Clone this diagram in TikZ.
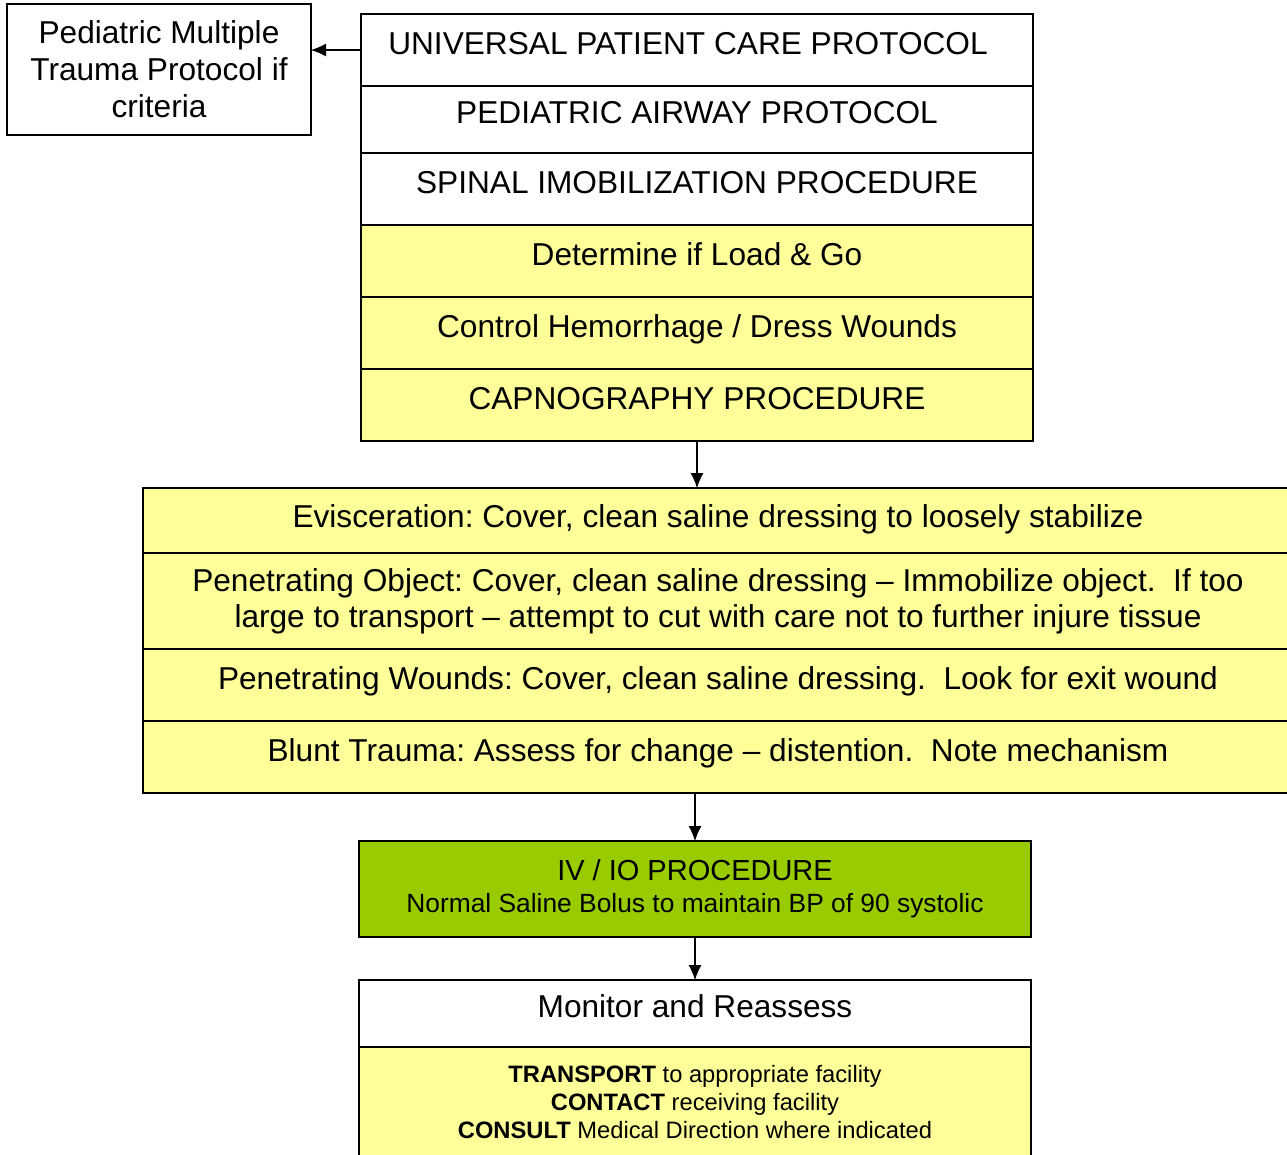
\documentclass[tikz,border=0pt]{standalone}
\usepackage{xcolor}
\usepackage{fontspec}
\setmainfont{Liberation Sans}
\frenchspacing
\usetikzlibrary{shapes,arrows.meta,positioning,calc}
\definecolor{stepyellow}{RGB}{255, 255, 153}
\definecolor{stepgreen}{RGB}{153, 204, 0}

\tikzset{
    rowbox/.style={draw, line width=1.1pt, outer sep=0pt, inner sep=2pt,
        minimum height=1.44cm, font=\fontsize{18}{20.5}\selectfont,
        text height=13pt, text depth=8pt},
    topbox/.style={rowbox, minimum width=13.44cm},
    midbox/.style={rowbox, minimum width=23cm},
    lowbox/.style={draw, line width=1.1pt, outer sep=0pt, inner sep=2pt,
        minimum width=13.44cm, align=center},
    flow/.style={line width=0.6pt, ->, >={Latex[length=3mm,width=2.6mm]}}
}

\begin{document}
\begin{tikzpicture}
    \useasboundingbox (0,0) rectangle (25.74,-23.08);
    \clip (0,0) rectangle (25.74,-23.08);
    % protocol stack
    \node[topbox, anchor=north west] (univ) at (7.22,-0.28) {UNIVERSAL PATIENT CARE PROTOCOL\hspace*{0.36cm}};
    \node[topbox, minimum height=1.34cm, below=0pt of univ] (airway) {PEDIATRIC AIRWAY PROTOCOL};
    \node[topbox, below=0pt of airway] (spinal) {SPINAL IMOBILIZATION PROCEDURE};
    \node[topbox, fill=stepyellow, below=0pt of spinal] (loadgo) {Determine if Load \& Go};
    \node[topbox, fill=stepyellow, below=0pt of loadgo] (hemo) {Control Hemorrhage / Dress Wounds};
    \node[topbox, fill=stepyellow, below=0pt of hemo] (capno) {CAPNOGRAPHY PROCEDURE};
    % side box
    \node[draw, line width=1.1pt, outer sep=0pt, anchor=north west, minimum width=6.08cm,
        minimum height=2.62cm, align=center, font=\fontsize{18}{21}\selectfont] (multi) at (0.14,-0.08)
        {Pediatric Multiple\\Trauma Protocol if\\criteria};
    % wounds
    \node[midbox, fill=stepyellow, minimum height=1.30cm, text depth=5pt, anchor=north west] (evisc) at (2.86,-9.76)
        {Evisceration: Cover, clean saline dressing to loosely stabilize};
    \node[midbox, fill=stepyellow, minimum height=1.92cm, text height=, text depth=, align=center,
        below=0pt of evisc] (penobj)
        {Penetrating Object: Cover, clean saline dressing -- Immobilize object.\ \ If too\\
         large to transport -- attempt to cut with care not to further injure tissue};
    \node[midbox, fill=stepyellow, below=0pt of penobj] (penwnd)
        {Penetrating Wounds: Cover, clean saline dressing.\ \ Look for exit wound};
    \node[midbox, fill=stepyellow, below=0pt of penwnd] (blunt)
        {Blunt Trauma: Assess for change -- distention.\ \ Note mechanism};
    % iv and transport
    \node[lowbox, fill=stepgreen, minimum height=1.92cm, anchor=north west,
        font=\fontsize{16.5}{18}\selectfont] (iv) at (7.18,-16.82)
        {IV / IO PROCEDURE\\
         {\fontsize{15}{18}\selectfont Normal Saline Bolus to maintain BP of 90 systolic}};
    \node[topbox, minimum height=1.34cm, anchor=north west] (monitor) at (7.18,-19.60) {Monitor and Reassess};
    \node[lowbox, fill=stepyellow, minimum height=2.2cm, below=0pt of monitor,
        font=\fontsize{13.5}{15.8}\selectfont] (transport)
        {\textbf{TRANSPORT} to appropriate facility\\
         \textbf{CONTACT} receiving facility\\
         \textbf{CONSULT} Medical Direction where indicated};
    % connectors
    \draw[flow] (univ.west) -- (univ.west -| multi.east);
    \draw[flow] (capno.south) -- (capno.south |- evisc.north);
    \draw[flow] (iv.north |- blunt.south) -- (iv.north);
    \draw[flow] (iv.south) -- (monitor.north);
\end{tikzpicture}
\end{document}
